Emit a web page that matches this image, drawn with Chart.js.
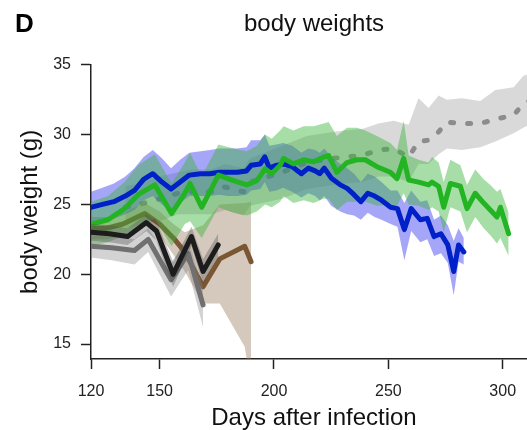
<!DOCTYPE html>
<html>
<head>
<meta charset="utf-8">
<script src="https://cdn.jsdelivr.net/npm/chart.js@4.4.1/dist/chart.umd.min.js"></script>
<style>
  body { margin: 0; background: #fff; overflow: hidden; }
  #wrap { position: relative; width: 527px; height: 430px; overflow: hidden; }
  #panel { position: absolute; left: 15px; top: 10px; font: bold 26px "Liberation Sans", Arial, sans-serif; line-height: 26px; color: #000; }
</style>
</head>
<body>
<div id="wrap">
  <canvas id="weights" width="537" height="430"></canvas>
  <div id="panel">D</div>
</div>
<script>
// ticks
const xTicks = [120, 150, 200, 250, 300];
const yTicks = [15, 20, 25, 30, 35];

// grey dotted group (survivors)
const dashDays = [135, 141, 150, 158, 164, 172.8, 178.6, 186.7, 189.6, 197.6, 203.5, 214.4, 222, 230.4, 238.5, 245.7, 252.3, 258.9, 263.2, 267.6, 272, 275.6, 282.2, 290.2, 296.8, 304.8, 309, 315];
const dashMean = [24.8, 25.0, 25.4, 25.8, 25.9, 25.9, 26.25, 25.9, 26.6, 27.0, 27.3, 28.0, 28.2, 28.4, 28.5, 28.9, 29.0, 28.4, 29.5, 29.6, 30.2, 30.9, 30.8, 30.8, 31.1, 31.4, 32.2, 32.7];
const dashHigh = [26.3, 26.5, 27.0, 27.3, 27.5, 27.5, 27.9, 27.6, 28.3, 28.8, 29.2, 29.9, 30.1, 30.3, 30.4, 30.8, 31.0, 30.7, 32.6, 31.9, 32.8, 32.5, 32.6, 32.4, 33.2, 33.4, 34.2, 34.6];
const dashLow = [23.3, 23.5, 23.8, 24.3, 24.3, 24.3, 24.6, 24.2, 24.9, 25.2, 25.4, 26.1, 26.3, 26.5, 26.6, 27.0, 27.0, 26.6, 27.9, 27.9, 28.6, 29.0, 28.9, 29.1, 29.5, 30.1, 30.5, 31.0];

// blue group
const blueDays = [120, 125, 130, 135, 139, 143, 147, 151, 155, 159, 163, 168, 172, 176, 180, 184, 188, 190, 194, 196, 198, 201, 204, 208, 212, 215, 218, 220, 222, 225, 229, 232, 235, 238, 241, 244, 247, 251, 254, 257, 260, 264, 267, 270, 273, 276, 278.6, 280.7, 283];
const blueMean = [24.8, 25.0, 25.2, 25.6, 26.0, 26.8, 27.2, 26.6, 26.1, 26.6, 27.1, 27.2, 27.2, 27.3, 27.3, 27.3, 27.4, 27.8, 27.9, 28.4, 27.6, 27.8, 27.9, 27.7, 27.2, 27.6, 27.4, 27.2, 27.6, 26.9, 26.4, 26.15, 25.7, 25.2, 25.8, 25.6, 25.3, 24.8, 24.7, 23.2, 24.7, 23.9, 24.0, 22.7, 22.9, 22.1, 20.2, 22.1, 21.6];
const blueHigh = [25.9, 26.2, 26.5, 27.0, 27.6, 28.4, 28.9, 28.3, 27.6, 28.2, 28.7, 28.8, 28.9, 29.0, 29.0, 29.0, 29.1, 29.6, 29.6, 30.0, 29.2, 29.3, 29.4, 29.2, 28.7, 29.0, 28.9, 28.7, 29.0, 28.4, 27.9, 27.6, 27.2, 26.6, 27.2, 27.0, 26.6, 26.0, 26.0, 25.1, 26.0, 25.2, 25.3, 23.9, 24.2, 23.5, 22.4, 23.3, 22.6];
const blueLow = [23.8, 23.9, 24.0, 24.3, 24.6, 25.3, 25.6, 25.0, 24.6, 25.1, 25.6, 25.6, 25.6, 25.7, 25.6, 25.6, 25.7, 26.0, 26.1, 26.6, 25.9, 26.0, 26.2, 25.9, 25.5, 25.8, 25.6, 25.3, 25.6, 24.9, 24.5, 24.3, 24.2, 23.9, 24.4, 24.1, 23.9, 23.6, 23.4, 21.0, 23.1, 22.3, 22.5, 21.3, 21.5, 20.8, 18.5, 20.9, 20.7];

// green group
const greenDays = [120, 127.4, 134.7, 140.6, 147.9, 155.2, 161, 163.3, 168.4, 175.7, 182.3, 188.1, 192.5, 196.1, 199, 202.7, 204.2, 208.5, 213, 217.3, 221.7, 223.9, 227.5, 231.9, 236.3, 239.9, 245, 250.9, 253.8, 256.7, 258.9, 263.2, 267.6, 269.1, 272, 274.2, 277.1, 281.5, 284.4, 288, 291.7, 294.6, 297.5, 299, 302.6];
const greenMean = [23.6, 23.9, 24.7, 25.7, 26.4, 24.35, 25.8, 26.5, 24.8, 27.1, 26.7, 26.4, 26.7, 27.55, 27.2, 27.8, 28.3, 27.9, 28.2, 28.05, 28.4, 28.5, 27.3, 28.0, 28.2, 28.2, 27.7, 27.3, 26.85, 28.3, 26.75, 26.6, 26.4, 26.6, 26.3, 24.8, 26.5, 26.3, 24.7, 25.8, 25.1, 24.6, 24.1, 24.8, 22.9];
const greenHigh = [25.2, 25.6, 26.6, 27.8, 28.6, 26.5, 28.0, 28.7, 27.0, 29.3, 29.0, 28.8, 29.2, 30.0, 29.7, 30.3, 30.6, 30.3, 30.6, 30.6, 30.8, 30.9, 29.9, 30.5, 30.5, 30.3, 29.9, 29.4, 28.9, 31.0, 28.5, 28.2, 28.0, 28.4, 28.0, 26.6, 28.2, 27.8, 26.4, 27.5, 26.8, 26.4, 25.9, 26.1, 24.4];
const greenLow = [22.0, 22.3, 22.8, 23.5, 24.0, 22.0, 23.6, 23.8, 22.6, 24.8, 24.4, 24.2, 24.5, 25.0, 24.8, 25.2, 25.6, 25.1, 25.3, 25.1, 25.4, 25.4, 24.6, 25.2, 25.2, 25.2, 24.9, 25.0, 24.9, 25.8, 25.0, 24.9, 24.6, 24.8, 24.5, 23.0, 24.8, 24.5, 23.0, 24.1, 23.3, 22.8, 22.2, 22.6, 21.3];

// black group
const blackDays = [120, 128, 136, 144.2, 148.6, 155.9, 163.9, 169, 175.6];
const blackMean = [23.0, 22.9, 22.7, 23.7, 23.1, 20.0, 22.7, 20.2, 22.1];
const blackHigh = [23.6, 23.5, 23.3, 24.3, 23.8, 20.9, 23.4, 21.1, 22.9];
const blackLow = [22.4, 22.3, 22.1, 23.1, 22.4, 19.1, 22.0, 19.3, 21.3];

// grey group
const greyDays = [120, 129, 139, 145, 155, 162.5, 169];
const greyMean = [22.0, 21.9, 21.7, 22.5, 19.6, 21.5, 17.8];
const greyHigh = [22.8, 22.7, 22.5, 23.3, 20.8, 22.6, 19.0];
const greyLow = [21.2, 21.0, 20.7, 21.6, 18.4, 20.3, 16.2];

// brown group
const brownDays = [120, 127, 134, 143.5, 150, 156, 161, 169, 176.3, 187.2, 190];
const brownMean = [23.3, 23.3, 23.6, 24.35, 23.6, 22.6, 21.6, 19.1, 21.1, 22.0, 20.9];
const brownHigh = [24.1, 24.1, 24.4, 25.1, 24.5, 23.6, 23.0, 23.5, 25.0, 25.1, 25.2];
const brownLow = [22.5, 22.5, 22.8, 23.6, 22.8, 21.4, 20.2, 17.9, 17.9, 14.8, 12.0];

const fontFamily = '"Liberation Sans", Arial, Helvetica, sans-serif';

const pts = (xs, ys) => xs.map((x, i) => ({x: x, y: ys[i]}));

// upper edge fills down to the lower edge (next dataset)
function band(days, high, low, fillColor, order) {
  return [
    {data: pts(days, high), borderWidth: 0, pointRadius: 0, fill: '+1', backgroundColor: fillColor, order: order},
    {data: pts(days, low), borderWidth: 0, pointRadius: 0, fill: false, order: order}
  ];
}

function line(days, mean, color, order, dash) {
  return {
    data: pts(days, mean),
    borderColor: color,
    borderWidth: 5,
    pointRadius: 0,
    fill: false,
    borderJoinStyle: 'round',
    borderCapStyle: 'round',
    borderDash: dash || [],
    order: order
  };
}

// bigger order = drawn earlier (further back)
const datasets = [
  ...band(dashDays, dashHigh, dashLow, 'rgba(140,140,140,0.33)', 100),
  line(dashDays, dashMean, '#8c8c8c', 99, [3, 14]),
  ...band(brownDays, brownHigh, brownLow, 'rgba(150,120,90,0.4)', 90),
  line(brownDays, brownMean, '#7a5632', 89),
  ...band(blueDays, blueHigh, blueLow, 'rgba(70,70,240,0.48)', 80),
  ...band(greenDays, greenHigh, greenLow, 'rgba(60,180,60,0.45)', 70),
  line(blueDays, blueMean, 'rgb(0,32,200)', 66),
  line(greenDays, greenMean, 'rgb(35,180,35)', 65),
  ...band(greyDays, greyHigh, greyLow, 'rgba(130,130,130,0.35)', 60),
  line(greyDays, greyMean, '#707070', 59),
  ...band(blackDays, blackHigh, blackLow, 'rgba(80,80,80,0.35)', 50),
  line(blackDays, blackMean, '#1c1c1c', 49)
];

const axisColor = '#222';

new Chart(document.getElementById('weights'), {
  type: 'line',
  data: {datasets: datasets},
  options: {
    responsive: false,
    animation: false,
    layout: {padding: 0},
    elements: {line: {tension: 0}},
    plugins: {
      legend: {display: false},
      tooltip: {enabled: false},
      title: {
        display: true,
        text: 'body weights',
        fullSize: false,
        color: '#111',
        font: {family: fontFamily, size: 24, weight: 'normal'},
        padding: {top: 10, bottom: 26}
      }
    },
    scales: {
      x: {
        type: 'linear',
        min: 120,
        max: 315,
        afterBuildTicks: s => { s.ticks = xTicks.map(v => ({value: v})); },
        afterFit: s => { s.height = 71; },
        grid: {drawOnChartArea: false, tickLength: 10, color: axisColor, tickWidth: 1.5},
        border: {color: axisColor, width: 1.5},
        ticks: {color: axisColor, padding: 13, maxRotation: 0, font: {family: fontFamily, size: 16}},
        title: {display: true, text: 'Days after infection', color: '#111', padding: 0, font: {family: fontFamily, size: 24, lineHeight: 1.0}}
      },
      y: {
        min: 13.93,
        max: 35,
        afterBuildTicks: s => { s.ticks = yTicks.map(v => ({value: v})); },
        afterFit: s => { s.width = 91; },
        grid: {drawOnChartArea: false, tickLength: 10, color: axisColor, tickWidth: 1.5},
        border: {color: axisColor, width: 1.5},
        ticks: {color: axisColor, padding: 10, font: {family: fontFamily, size: 16}},
        title: {display: true, text: 'body weight (g)', color: '#111', padding: {top: 16, bottom: 0}, font: {family: fontFamily, size: 24}}
      }
    }
  }
});
</script>
</body>
</html>
